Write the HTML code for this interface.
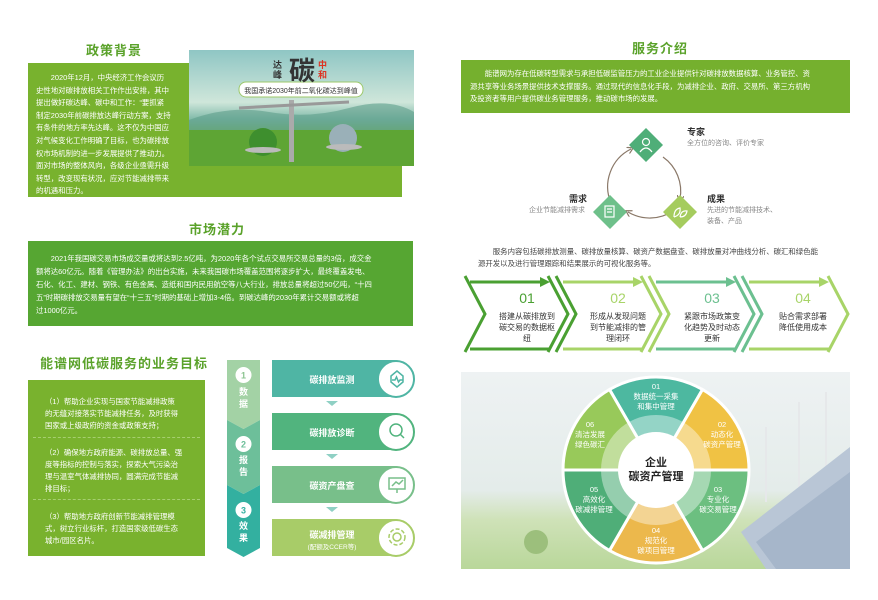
<!DOCTYPE html>
<html><head><meta charset="utf-8"><style>
*{margin:0;padding:0;box-sizing:border-box}
body{width:878px;height:600px;position:relative;background:#fff;font-family:"Liberation Sans","Noto Sans CJK SC",sans-serif;overflow:hidden}
.a{position:absolute}
.t{position:absolute;color:#5aa22a;font-weight:bold;font-size:13px;white-space:nowrap;letter-spacing:1px}
.p{position:absolute;color:#fff;font-size:7.4px;line-height:12.6px;white-space:nowrap}
.g{color:#444;font-size:7.4px;line-height:12px;white-space:nowrap;position:absolute}
.card{position:absolute;left:272px;width:141px;height:37px;border-radius:0 19px 19px 0;color:#fff;font-weight:bold;font-size:9px}
.card span{position:absolute;left:0;width:120px;text-align:center;top:13px}
.circ{position:absolute;right:-2px;top:0;width:38px;height:38px;border-radius:50%;background:#fff;border:2px solid}
</style></head><body>

<!-- 政策背景 -->
<div class="t" style="left:86px;top:40px">政策背景</div>
<div class="a" style="left:28px;top:63px;width:374px;height:134px;background:#78b22e"></div>
<div class="p" style="left:36px;top:72px">　　2020年12月，中央经济工作会议历<br>史性地对碳排放相关工作作出安排，其中<br>提出做好碳达峰、碳中和工作：“要抓紧<br>制定2030年前碳排放达峰行动方案，支持<br>有条件的地方率先达峰。这不仅为中国应<br>对气候变化工作明确了目标，也为碳排放<br>权市场机制的进一步发展提供了推动力。<br>面对市场的整体风向，各级企业亟需升级<br>转型，改变现有状况，应对节能减排带来<br>的机遇和压力。</div>
<svg class="a" style="left:189px;top:50px" width="225" height="116">
<defs><linearGradient id="sk" x1="0" y1="0" x2="0" y2="1"><stop offset="0" stop-color="#8fc6c4"/><stop offset="0.45" stop-color="#cfe6da"/><stop offset="0.6" stop-color="#7fb9a8"/><stop offset="0.72" stop-color="#6fae5a"/><stop offset="1" stop-color="#4a9a2a"/></linearGradient></defs>
<rect width="225" height="116" fill="url(#sk)"/>
<path d="M0 70 Q40 55 80 62 T160 58 T225 62 L225 80 L0 80Z" fill="#5d9e8a" opacity=".6"/>
<rect x="0" y="80" width="225" height="36" fill="#5ea534"/>
<rect x="100" y="50" width="5" height="62" fill="#aaa"/>
<line x1="50" y1="58" x2="160" y2="52" stroke="#999" stroke-width="3"/>
<circle cx="74" cy="92" r="14" fill="#3e8f2e"/><ellipse cx="74" cy="100" rx="18" ry="3" fill="#bbb"/>
<circle cx="154" cy="88" r="14" fill="#9ab0b8"/><ellipse cx="155" cy="97" rx="18" ry="3" fill="#bbb"/>
<rect x="50" y="32" width="124" height="15" rx="7" fill="#fff" stroke="#9cc86a"/>
<text x="112" y="43" font-size="7" text-anchor="middle" fill="#333">我国承诺2030年前二氧化碳达到峰值</text>
<text x="100" y="30" font-size="26" font-weight="bold" fill="#333">碳</text>
<text x="84" y="18" font-size="9" font-weight="bold" fill="#333">达</text><text x="84" y="28" font-size="9" font-weight="bold" fill="#333">峰</text>
<text x="129" y="18" font-size="9" font-weight="bold" fill="#d32">中</text><text x="129" y="28" font-size="9" font-weight="bold" fill="#d32">和</text>
</svg>

<!-- 市场潜力 -->
<div class="t" style="left:189px;top:219px">市场潜力</div>
<div class="a" style="left:28px;top:241px;width:385px;height:85px;background:#56a632"></div>
<div class="p" style="left:36px;top:252px;line-height:13px">　　2021年我国碳交易市场成交量或将达到2.5亿吨，为2020年各个试点交易所交易总量的3倍，成交金<br>额将达60亿元。随着《管理办法》的出台实施，未来我国碳市场覆盖范围将逐步扩大，最终覆盖发电、<br>石化、化工、建材、钢铁、有色金属、造纸和国内民用航空等八大行业，排放总量将超过50亿吨，“十四<br>五”时期碳排放交易量有望在“十三五”时期的基础上增加3-4倍。到碳达峰的2030年累计交易额或将超<br>过1000亿元。</div>

<!-- 业务目标 -->
<div class="t" style="left:40px;top:353px">能谱网低碳服务的业务目标</div>
<div class="a" style="left:28px;top:380px;width:177px;height:176px;background:#79b22e"></div>
<div class="p" style="left:45px;top:396px;line-height:12px">（1）帮助企业实现与国家节能减排政策<br>的无缝对接落实节能减排任务，及时获得<br>国家或上级政府的资金或政策支持；</div>
<div class="a" style="left:33px;top:437px;width:167px;border-top:1px dashed #a6cf70"></div>
<div class="p" style="left:45px;top:447px;line-height:12px">（2）确保地方政府能源、碳排放总量、强<br>度等指标的控制与落实，探索大气污染治<br>理与温室气体减排协同，圆满完成节能减<br>排目标；</div>
<div class="a" style="left:33px;top:499px;width:167px;border-top:1px dashed #a6cf70"></div>
<div class="p" style="left:45px;top:511px;line-height:12px">（3）帮助地方政府创新节能减排管理模<br>式，树立行业标杆，打造国家级低碳生态<br>城市/园区名片。</div>

<svg class="a" style="left:225px;top:358px" width="40" height="202">
<polygon points="2,2 35,2 35,62 18.5,71 2,62" fill="#a3d2a5"/>
<polygon points="2,62 18.5,71 35,62 35,127 18.5,136 2,127" fill="#6dbf9a"/>
<polygon points="2,127 18.5,136 35,127 35,190 18.5,199 2,190" fill="#33b0a0"/>
<g fill="#fff" stroke="none">
<circle cx="18.5" cy="17" r="8"/><circle cx="18.5" cy="86" r="8"/><circle cx="18.5" cy="152" r="8"/></g>
<g font-size="9" font-weight="bold" text-anchor="middle">
<text x="18.5" y="20.5" fill="#8cc490">1</text><text x="18.5" y="89.5" fill="#6dbf9a">2</text><text x="18.5" y="155.5" fill="#33b0a0">3</text>
<g fill="#fff"><text x="18.5" y="37">数</text><text x="18.5" y="49">据</text><text x="18.5" y="105">报</text><text x="18.5" y="117">告</text><text x="18.5" y="171">效</text><text x="18.5" y="183">果</text></g></g>
</svg>

<div class="card" style="top:360px;background:#4fb5a4"><span>碳排放监测</span><div class="circ" style="border-color:#4fb5a4"></div></div>
<div class="card" style="top:413px;background:#51b47e"><span>碳排放诊断</span><div class="circ" style="border-color:#51b47e"></div></div>
<div class="card" style="top:466px;background:#78bf8a"><span>碳资产盘查</span><div class="circ" style="border-color:#78bf8a"></div></div>
<div class="card" style="top:519px;background:#a8cc68"><span style="top:9px">碳减排管理</span><span style="top:22px;font-size:6.5px;font-weight:normal">(配额及CCER等)</span><div class="circ" style="border-color:#a8cc68"></div></div>
<svg class="a" style="left:272px;top:360px" width="145" height="200" fill="none" stroke-width="1.5">
<path d="M119 16 L125 11 L131 16 L131 22 L125 27 L119 22Z M120 20 h3 l1.5-3 l2 5 l1.5-2 h3" stroke="#4fb5a4"/>
<circle cx="124" cy="70" r="6" stroke="#51b47e"/><line x1="128" y1="74" x2="132" y2="78" stroke="#51b47e"/>
<rect x="117" y="118" width="16" height="11" stroke="#78bf8a"/><path d="M120 126 l4-4 l3 2 l4-4" stroke="#78bf8a"/><line x1="125" y1="129" x2="125" y2="133" stroke="#78bf8a"/>
<circle cx="125" cy="177" r="4" stroke="#a8cc68"/><circle cx="125" cy="177" r="8" stroke="#a8cc68" stroke-dasharray="4 2"/>
<g fill="#8fd0c4" stroke="none"><polygon points="54,41 66,41 60,46"/><polygon points="54,94 66,94 60,99"/><polygon points="54,147 66,147 60,152"/></g>
</svg>

<!-- 服务介绍 -->
<div class="t" style="left:632px;top:38px">服务介绍</div>
<div class="a" style="left:461px;top:60px;width:389px;height:53px;background:#75b02e"></div>
<div class="p" style="left:470px;top:68px;line-height:12.5px">　　能谱网为存在低碳转型需求与承担低碳监管压力的工业企业提供针对碳排放数据核算、业务管控、资<br>源共享等业务场景提供技术支撑服务。通过现代的信息化手段，为减排企业、政府、交易所、第三方机构<br>及投资者等用户提供碳业务管理服务，推动碳市场的发展。</div>

<svg class="a" style="left:560px;top:120px" width="180" height="110">
<defs><marker id="ar" markerWidth="6" markerHeight="6" refX="3" refY="3" orient="auto"><path d="M0,0 L5,3 L0,6" fill="none" stroke="#8a7868" stroke-width="1"/></marker></defs>
<g fill="none" stroke="#8a7868" stroke-width="1.2" marker-end="url(#ar)">
<path d="M103 37 A42 42 0 0 1 120 79"/>
<path d="M113 91 A42 42 0 0 1 68 92"/>
<path d="M51 83 A42 42 0 0 1 71 29"/>
</g>
<polygon points="86,8 103,25 86,42 69,25" fill="#4fae78"/>
<polygon points="120,75 137,92 120,109 103,92" fill="#a5cc5e"/>
<polygon points="50,75 67,92 50,109 33,92" fill="#6ec08a"/>
<g fill="none" stroke="#fff" stroke-width="1.2"><circle cx="86" cy="22" r="3.5"/><path d="M80 32 q6-8 12 0"/><rect x="45" y="86" width="9" height="11"/><path d="M47 89h5M47 92h5"/><path d="M114 97 q0-8 6-9 q1 7-6 9 M120 97 q1-7 7-6 q-1 6-7 6"/></g>
</svg>
<div class="a" style="left:687px;top:125px;font-size:9px;font-weight:bold;color:#333">专家</div>
<div class="g" style="left:687px;top:138px;color:#888;font-size:7px">全方位的咨询、评价专家</div>
<div class="a" style="left:707px;top:192px;font-size:9px;font-weight:bold;color:#333">成果</div>
<div class="g" style="left:707px;top:205px;color:#888;font-size:7px;line-height:11px">先进的节能减排技术、<br>装备、产品</div>
<div class="a" style="left:569px;top:192px;font-size:9px;font-weight:bold;color:#333">需求</div>
<div class="g" style="left:529px;top:205px;color:#888;font-size:7px">企业节能减排需求</div>

<div class="g" style="left:478px;top:246px;line-height:11.5px">　　服务内容包括碳排放测量、碳排放量核算、碳资产数据盘查、碳排放量对冲曲线分析、碳汇和绿色能<br>源开发以及进行管理跟踪和结果展示的可视化服务等。</div>

<svg class="a" style="left:460px;top:272px" width="400" height="84">
<g fill="none" stroke-width="3">
<g stroke="#4aa032"><path d="M5 4 L25 42 L5 80"/><line x1="10" y1="10" x2="82" y2="10"/><line x1="10" y1="77" x2="90" y2="77"/><path d="M88 4 L108 42 L88 80"/><path d="M96 4 L116 42 L96 80"/></g>
<g stroke="#a8d468"><line x1="103" y1="10" x2="175" y2="10"/><line x1="103" y1="77" x2="183" y2="77"/><path d="M181 4 L201 42 L181 80"/><path d="M189 4 L209 42 L189 80"/></g>
<g stroke="#6cc090"><line x1="196" y1="10" x2="268" y2="10"/><line x1="196" y1="77" x2="276" y2="77"/><path d="M274 4 L294 42 L274 80"/><path d="M282 4 L302 42 L282 80"/></g>
<g stroke="#a8d468"><line x1="289" y1="10" x2="361" y2="10"/><line x1="289" y1="77" x2="369" y2="77"/><path d="M368 4 L388 42 L368 80"/></g>
</g>
<polygon points="80,5 90,10 80,15" fill="#4aa032"/><polygon points="173,5 183,10 173,15" fill="#a8d468"/><polygon points="266,5 276,10 266,15" fill="#6cc090"/><polygon points="359,5 369,10 359,15" fill="#a8d468"/>
<g font-size="14" text-anchor="middle"><text x="67" y="31" fill="#4aa032">01</text><text x="158" y="31" fill="#a8d468">02</text><text x="252" y="31" fill="#6cc090">03</text><text x="343" y="31" fill="#a8d468">04</text></g>
<g font-size="8" text-anchor="middle" fill="#333">
<text x="67" y="47">搭建从碳排放到</text><text x="67" y="58">碳交易的数据枢</text><text x="67" y="69">纽</text>
<text x="158" y="47">形成从发现问题</text><text x="158" y="58">到节能减排的管</text><text x="158" y="69">理闭环</text>
<text x="252" y="47">紧跟市场政策变</text><text x="252" y="58">化趋势及时动态</text><text x="252" y="69">更新</text>
<text x="343" y="47">贴合需求部署</text><text x="343" y="58">降低使用成本</text></g>
</svg>

<!-- bottom wheel -->
<svg class="a" style="left:461px;top:372px" width="389" height="197">
<defs><linearGradient id="bg" x1="0" y1="0" x2="0" y2="1"><stop offset="0" stop-color="#eef2f3"/><stop offset="0.6" stop-color="#e4ecea"/><stop offset="0.75" stop-color="#cfe2b8"/><stop offset="1" stop-color="#b9d79a"/></linearGradient></defs>
<rect width="389" height="197" fill="url(#bg)"/>
<g stroke="#e6e8ea" stroke-width="2"><line x1="150" y1="20" x2="150" y2="120"/><line x1="305" y1="55" x2="305" y2="130"/><line x1="338" y1="30" x2="338" y2="130"/><line x1="365" y1="20" x2="365" y2="120"/></g>
<polygon points="280,160 389,75 389,197 305,197" fill="#b9c6d6"/>
<polygon points="295,170 389,100 389,197 315,197" fill="#a6b6ca"/>
<circle cx="75" cy="170" r="12" fill="#9cbf7c"/>
</svg>
<svg class="a" style="left:0;top:0" width="878" height="600">
<g stroke="#fff" stroke-width="3">
<path d="M656 470 L609.5 389.5 A93 93 0 0 1 702.5 389.5Z" fill="#4db8a0"/>
<path d="M656 470 L702.5 389.5 A93 93 0 0 1 749 470Z" fill="#f0c244"/>
<path d="M656 470 L749 470 A93 93 0 0 1 702.5 550.5Z" fill="#6cbf80"/>
<path d="M656 470 L702.5 550.5 A93 93 0 0 1 609.5 550.5Z" fill="#ecb84c"/>
<path d="M656 470 L609.5 550.5 A93 93 0 0 1 563 470Z" fill="#4fae78"/>
<path d="M656 470 L563 470 A93 93 0 0 1 609.5 389.5Z" fill="#98c95a"/>
</g>
<circle cx="656" cy="470" r="55" fill="#fff" opacity=".4"/>
<circle cx="656" cy="470" r="38" fill="#fff"/>
<g text-anchor="middle" font-weight="bold" fill="#222" font-size="11"><text x="656" y="466">企业</text><text x="656" y="480">碳资产管理</text></g>
<g text-anchor="middle" fill="#fff" font-size="7.5">
<text x="656" y="389">01</text><text x="656" y="399">数据统一采集</text><text x="656" y="409">和集中管理</text>
<text x="722" y="427">02</text><text x="722" y="437">动态化</text><text x="722" y="447">碳资产管理</text>
<text x="718" y="492">03</text><text x="718" y="502">专业化</text><text x="718" y="512">碳交易管理</text>
<text x="656" y="533">04</text><text x="656" y="543">规范化</text><text x="656" y="553">碳项目管理</text>
<text x="594" y="492">05</text><text x="594" y="502">高效化</text><text x="594" y="512">碳减排管理</text>
<text x="590" y="427">06</text><text x="590" y="437">清洁发展</text><text x="590" y="447">绿色碳汇</text>
</g>
</svg>
</body></html>
